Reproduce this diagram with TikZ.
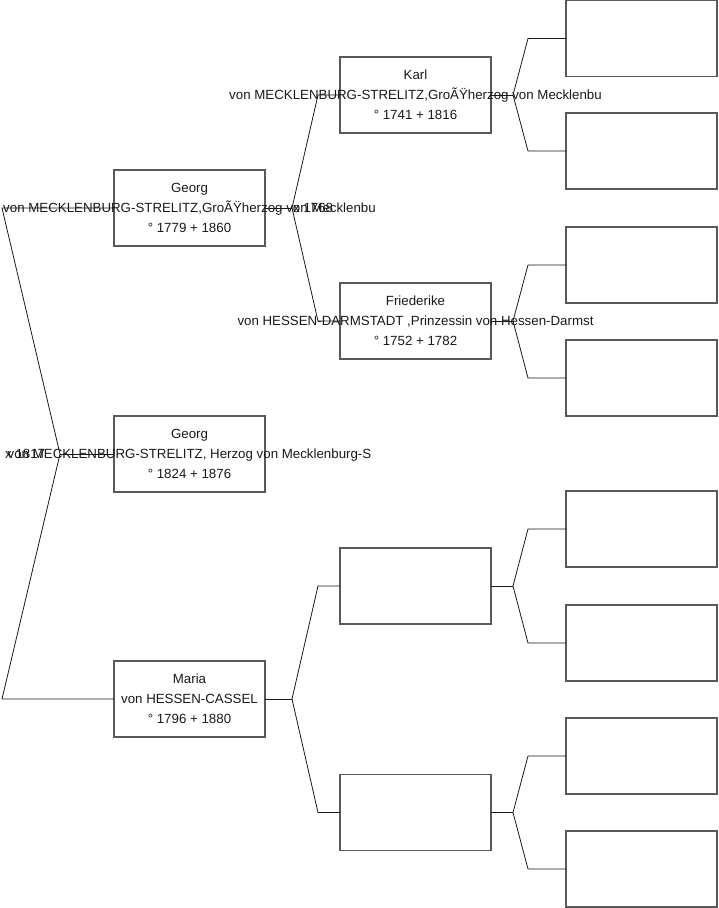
\documentclass[tikz,border=0pt]{standalone}
\usepackage{fontspec}
\setmainfont{Liberation Sans}
\usetikzlibrary{positioning}

\begin{document}
\begin{tikzpicture}[x=1pt, y=-1pt, node distance=75pt, font=\fontsize{13.3}{20}\selectfont,
  box/.style={draw=black!65, line width=1.2pt, minimum width=151pt, minimum height=76pt, inner sep=0pt, outer sep=0pt},
  txt/.style={align=center, inner sep=0pt, text=black!90},
  pers/.style={box, label={[txt]center:#1}},
  lnk/.style={line width=0.8pt, black!90}]
\useasboundingbox (0,0) rectangle (719,908);
% first column: child and parents
\node[pers={Georg\\von MECKLENBURG-STRELITZ,GroÃŸherzog von Mecklenbu\\° 1779 + 1860}] (georgA) at (189.5,208) {};
\node[pers={Georg\\von MECKLENBURG-STRELITZ, Herzog von Mecklenburg-S\\° 1824 + 1876}] (georgB) at (189.5,454) {};
\node[pers={Maria\\von HESSEN-CASSEL\\° 1796 + 1880}] (maria) at (189.5,699) {};
% second column
\node[pers={Karl\\von MECKLENBURG-STRELITZ,GroÃŸherzog von Mecklenbu\\° 1741 + 1816}, right=of georgA, yshift=113pt] (karl) {};
\node[pers={Friederike\\von HESSEN-DARMSTADT ,Prinzessin von Hessen-Darmst\\° 1752 + 1782}, right=of georgA, yshift=-113pt] (fried) {};
\node[box, right=of maria, yshift=113pt] (mA) {};
\node[box, right=of maria, yshift=-113.5pt] (mB) {};
% third column
\node[box, right=of karl, yshift=56.5pt] (kA) {};
\node[box, right=of karl, yshift=-56pt] (kB) {};
\node[box, right=of fried, yshift=56pt] (fA) {};
\node[box, right=of fried, yshift=-57pt] (fB) {};
\node[box, right=of mA, yshift=57pt] (mAa) {};
\node[box, right=of mA, yshift=-57pt] (mAb) {};
\node[box, right=of mB, yshift=56.5pt] (mBa) {};
\node[box, right=of mB, yshift=-56.5pt] (mBb) {};
% marriage dates
\node[txt, anchor=west] (mar0) at (5,454) {x 1817};
\node[txt, anchor=west] (mar1) at (293,208) {x 1768};
% forks
\coordinate (fk0) at ([xshift=-54pt]georgB.west);
\draw[lnk] (georgB.west) -- (fk0); \draw[lnk] (fk0) -- ([xshift=-112pt]georgA.west) -- (georgA.west); \draw[lnk] (fk0) -- ([xshift=-112pt]maria.west) -- (maria.west);
\draw[lnk] (georgA.east) -- ++(27,0) coordinate (fk1); \draw[lnk] (fk1) -- ([xshift=-22pt]karl.west) -- (karl.west); \draw[lnk] (fk1) -- ([xshift=-22pt]fried.west) -- (fried.west);
\draw[lnk] (maria.east) -- ++(27,0) coordinate (fk2); \draw[lnk] (fk2) -- ([xshift=-22pt]mA.west) -- (mA.west); \draw[lnk] (fk2) -- ([xshift=-22pt]mB.west) -- (mB.west);
\draw[lnk] (karl.east) -- ++(22,0) coordinate (fk3); \draw[lnk] (fk3) -- ([xshift=-38pt]kA.west) -- (kA.west); \draw[lnk] (fk3) -- ([xshift=-38pt]kB.west) -- (kB.west);
\draw[lnk] (fried.east) -- ++(22,0) coordinate (fk4); \draw[lnk] (fk4) -- ([xshift=-38pt]fA.west) -- (fA.west); \draw[lnk] (fk4) -- ([xshift=-38pt]fB.west) -- (fB.west);
\draw[lnk] (mA.east) -- ++(22,0) coordinate (fk5); \draw[lnk] (fk5) -- ([xshift=-38pt]mAa.west) -- (mAa.west); \draw[lnk] (fk5) -- ([xshift=-38pt]mAb.west) -- (mAb.west);
\draw[lnk] (mB.east) -- ++(22,0) coordinate (fk6); \draw[lnk] (fk6) -- ([xshift=-38pt]mBa.west) -- (mBa.west); \draw[lnk] (fk6) -- ([xshift=-38pt]mBb.west) -- (mBb.west);
\end{tikzpicture}
\end{document}
